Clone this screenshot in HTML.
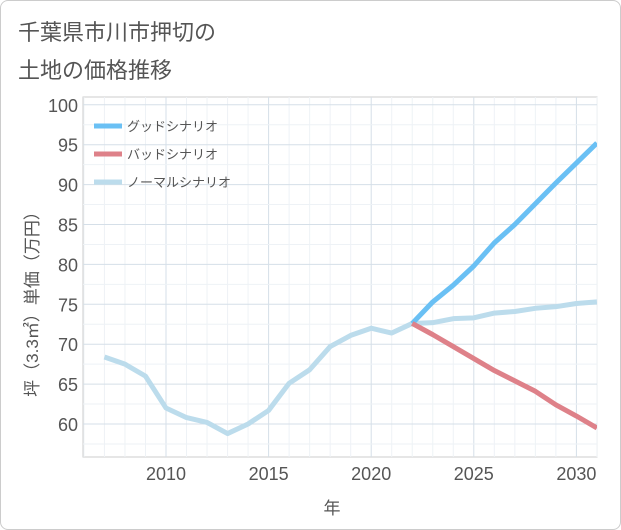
<!DOCTYPE html>
<html><head><meta charset="utf-8"><style>
body{margin:0;background:#fff;}
#wrap{position:relative;width:619px;height:528px;border:1px solid #ccc;border-radius:8px;overflow:hidden;background:#fff;font-family:"Liberation Sans","Noto Sans CJK JP",sans-serif;}
</style></head><body>
<div id="wrap">
<svg id="chart" width="621" height="530" style="position:absolute;left:-1px;top:-1px"></svg>
</div>
<script>
const years=[2007,2008,2009,2010,2011,2012,2013,2014,2015,2016,2017,2018,2019,2020,2021,2022,2023,2024,2025,2026,2027,2028,2029,2030,2031];
const normal=[68.4,67.5,66.0,62.0,60.8,60.2,58.8,60.0,61.7,65.1,66.8,69.7,71.1,72.0,71.4,72.6,72.7,73.2,73.3,73.9,74.1,74.5,74.7,75.1,75.3];
const goodYears=[2022,2023,2024,2025,2026,2027,2028,2029,2030,2031];
const good=[72.6,75.3,77.4,79.8,82.7,85.0,87.6,90.2,92.7,95.2];
const bad=[72.6,71.2,69.7,68.2,66.7,65.4,64.1,62.4,61.0,59.5];
const yTicks=[60,65,70,75,80,85,90,95,100];
const xTicks=[2010,2015,2020,2025,2030];
const NS="http://www.w3.org/2000/svg";
const svg=document.getElementById('chart');
const L=83,R=597,T=97,B=457;
const x=v=>166+(v-2010)*20.52;
const y=v=>424-(v-60)*7.98;
function mk(tag,attrs,parent){const e=document.createElementNS(NS,tag);for(const k in attrs)e.setAttribute(k,attrs[k]);(parent||svg).appendChild(e);return e;}
// title
const t1=mk('text',{x:18,y:40,'font-size':22,fill:'#555'});t1.textContent='千葉県市川市押切の';


const t2=mk('text',{x:18,y:78,'font-size':22,fill:'#555'});t2.textContent='土地の価格推移';


mk('rect',{x:L,y:T,width:R-L,height:B-T,fill:'none',stroke:'#ccc'});
// grid
for(let v=2006;v<=2031;v++){if(x(v)<L||x(v)>R)continue;const g=mk('line',{x1:x(v),x2:x(v),y1:T,y2:B,stroke:v%5==0?'#d5dfe8':'#eef2f6','stroke-width':1});

}
for(let v=57.5;v<=100;v+=2.5){const yy=y(v);if(yy<T||yy>B)continue;const g=mk('line',{x1:L,x2:R,y1:yy,y2:yy,stroke:v%5==0?'#d5dfe8':'#eef2f6'});

}
yTicks.forEach(v=>{const e=mk('text',{x:78,y:y(v)+7,'font-size':18,fill:'#555','text-anchor':'end'});e.textContent=v;

});
xTicks.forEach(v=>{const e=mk('text',{x:x(v),y:480,'font-size':18,fill:'#555','text-anchor':'middle'});e.textContent=v;

});
const xt=mk('text',{x:332,y:514,'font-size':17,fill:'#555','text-anchor':'middle'});xt.textContent='年';


const yt=mk('text',{x:0,y:0,'font-size':17,fill:'#555','text-anchor':'middle',transform:'translate(38,300) rotate(-90)'});yt.textContent='坪（3.3㎡）単価（万円）';


const clip=mk('clipPath',{id:'c'});mk('rect',{x:L,y:T,width:R-L,height:B-T},clip);
function line(xs,vs,color,name){const d=xs.map((xv,i)=>(i?'L':'M')+x(xv)+','+y(vs[i])).join(' ');const p=mk('path',{d,fill:'none',stroke:color,'stroke-width':5,'stroke-linejoin':'round','clip-path':'url(#c)'});

}
line(years,normal,'#bcdcec','normal-scenario-line');
line(goodYears,good,'#6ac0f4','good-scenario-line');
line(goodYears,bad,'#de8189','bad-scenario-line');
const leg=[['グッドシナリオ','#6ac0f4'],['バッドシナリオ','#de8189'],['ノーマルシナリオ','#bcdcec']];
leg.forEach((l,i)=>{const g=mk('g',{});


mk('line',{x1:94,x2:122,y1:126+i*28,y2:126+i*28,stroke:l[1],'stroke-width':5},g);
const e=mk('text',{x:127,y:131+i*28,'font-size':13,fill:'#555'},g);e.textContent=l[0];});
</script>
</body></html>
